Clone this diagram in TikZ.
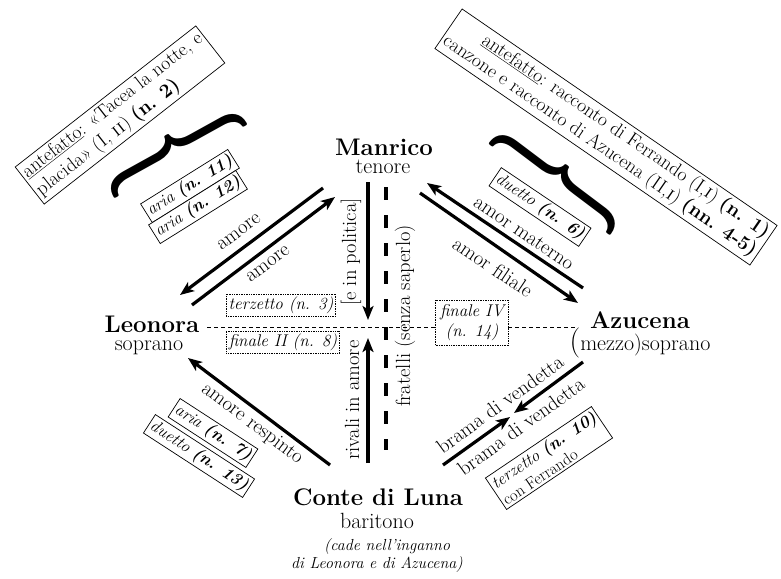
\documentclass[tikz,border=0pt]{standalone}
\usepackage{fontspec}
\usepackage{graphicx}
\usetikzlibrary{arrows.meta}
\tikzset{
  persona/.style={font=\fontsize{24}{28}\selectfont\bfseries, inner sep=0pt, anchor=base},
  voice/.style={font=\fontsize{22}{26}\selectfont, inner sep=0pt, anchor=base},
  remark/.style={font=\fontsize{16}{18}\selectfont\itshape, inner sep=0pt, anchor=base},
  lbl/.style={font=\fontsize{20.5}{24}\selectfont, inner sep=0pt},
  rel/.style={line width=3.2pt, -{Stealth[length=14pt,width=11pt,inset=3.5pt]}},
  tagbox/.style={draw, line width=0.7pt, font=\fontsize{17}{20}\selectfont\itshape, inner sep=2.5pt, fill=white},
  dtagbox/.style={tagbox, densely dotted},
  antebox/.style={draw, line width=0.7pt, font=\fontsize{19.5}{22.5}\selectfont, inner sep=3pt, fill=white},
  bracenode/.style={inner sep=0pt}
}
\begin{document}
\begin{tikzpicture}[x=1pt,y=-1pt]
\useasboundingbox (0,0) rectangle (781,578);
% coordinates
\coordinate (h1) at (207,327); \coordinate (h2) at (578,327);
\coordinate (a1s) at (323,188); \coordinate (a1e) at (180,295);
\coordinate (a2s) at (192,305); \coordinate (a2e) at (335,197);
\coordinate (a3s) at (583,288); \coordinate (a3e) at (427,183);
\coordinate (a4s) at (420,193); \coordinate (a4e) at (578,303);
\coordinate (a5s) at (330,465); \coordinate (a5e) at (188,358);
\coordinate (a6s) at (583,362); \coordinate (a6e) at (514,413);
\coordinate (a7s) at (443,465); \coordinate (a7e) at (510,417);
\coordinate (a8s) at (368,182); \coordinate (a8e) at (368,320);
\coordinate (a9s) at (368,463); \coordinate (a9e) at (368,338);
\coordinate (f1) at (386,187); \coordinate (f2) at (386,450);

% horizontal dashed line
\draw[line width=0.8pt, dash pattern=on 4pt off 3pt] (h1) -- (h2);

% names
\node[persona] (manrico) at (384,155) {Manrico};
\node[voice] (tenore) at (383,173) {tenore};
\node[persona] (leonora) at (152,332) {Leonora};
\node[voice] (soprano) at (149,350) {soprano};
\node[persona] (azucena) at (640,328) {Azucena};
\node[voice] (mezzo) at (640,350) {{\fontsize{30}{30}\selectfont(}mezzo)soprano};
\node[persona] (conte) at (378,505) {Conte di Luna};
\node[voice] (baritono) at (377,528) {baritono};
\node[remark] (cade) at (387,550) {(cade nell’inganno};
\node[remark] (dileonora) at (377,568) {di Leonora e di Azucena)};

% connectors
\draw[rel] (a1s) -- (a1e);
\draw[rel] (a2s) -- (a2e);
\draw[rel] (a3s) -- (a3e);
\draw[rel] (a4s) -- (a4e);
\draw[rel] (a5s) -- (a5e);
\draw[rel] (a6s) -- (a6e);
\draw[rel] (a7s) -- (a7e);
\draw[rel] (a8s) -- (a8e);
\draw[rel] (a9s) -- (a9e);
\draw[line width=3.5pt, dash pattern=on 13pt off 15pt] (f1) -- (f2);

% labels
\node[lbl, rotate=37] (amore1) at (239,232) {amore};
\node[lbl, rotate=37] (amore2) at (268,264) {amore};
\node[lbl, rotate=-34] (materno) at (524,233) {amor materno};
\node[lbl, rotate=-34] (filiale) at (493,267) {amor filiale};
\node[lbl, rotate=-37] (respinto) at (252,424) {amore respinto};
\node[lbl, rotate=36] (brama1) at (500,404) {brama di vendetta};
\node[lbl, rotate=36] (brama2) at (521,426) {brama di vendetta};
\node[lbl, rotate=90] (politica) at (351,252) {[e in politica]};
\node[lbl, rotate=90] (rivali) at (352,400) {rivali in amore};
\node[lbl, rotate=90] (fratelli) at (405,316) {fratelli (senza saperlo)};

% boxes
\node[dtagbox] (terzetto3) at (281,305) {terzetto (n. 3)};
\node[dtagbox] (finale2) at (283,342) {finale II (n. 8)};
\node[dtagbox, align=center, inner sep=4.5pt] (finale4) at (472,323) {finale IV\\(n. 14)};
\node[tagbox, rotate=32] (aria11) at (190,186) {aria \textbf{(n. 11)}};
\node[tagbox, rotate=32] (aria12) at (198,207) {aria \textbf{(n. 12)}};
\node[tagbox, rotate=-34] (duetto6) at (540,207) {duetto \textbf{(n. 6)}};
\node[tagbox, rotate=-33] (aria7) at (213,433) {aria \textbf{(n. 7)}};
\node[tagbox, rotate=-33] (duetto13) at (199,456) {duetto \textbf{(n. 13)}};
\node[tagbox, rotate=34, align=left] (terzetto10) at (549,458) {terzetto \textbf{(n. 10)}\\{\upshape\fontsize{16.5}{19}\selectfont con Ferrando}};

\node[antebox, rotate=38, align=left] (ante1) at (120,115) {\underline{antefatto}: «Tacea la notte, e\\placida» (I, \textsc{ii}) \textbf{(n. 2)}};
\node[antebox, rotate=-34.5, align=right] (ante2) at (606,137) {\underline{antefatto}: racconto di Ferrando (I,\textsc{i}) \textbf{(n. 1)}\\canzone e racconto di Azucena (II,\textsc{i}) \textbf{(nn. 4-5)}};

% braces
\node[bracenode, rotate=119] (brace1) at (174,149) {\resizebox*{42pt}{152pt}{\bfseries\}}};
\node[bracenode, rotate=53] (brace2) at (559,178) {\resizebox*{42pt}{152pt}{\bfseries\}}};
\end{tikzpicture}
\end{document}
